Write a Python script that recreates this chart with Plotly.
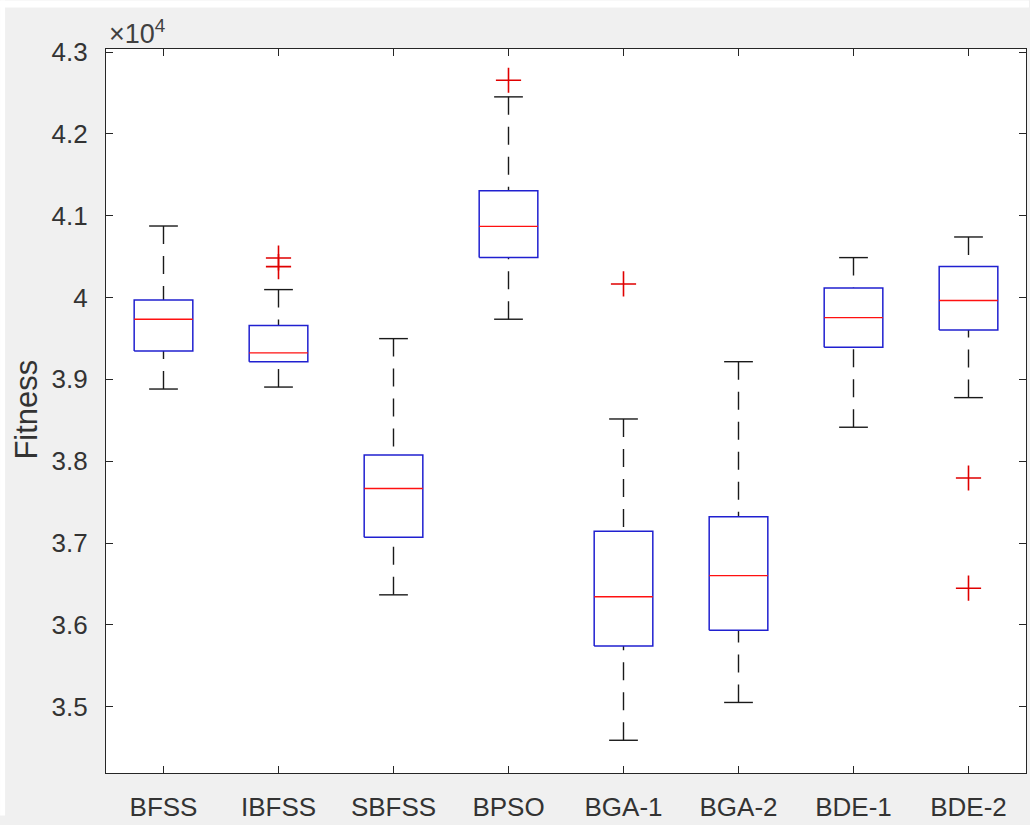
import plotly.graph_objects as go

categories = ["BFSS", "IBFSS", "SBFSS", "BPSO", "BGA-1", "BGA-2", "BDE-1", "BDE-2"]
lower_whisker = [38882, 38906, 36367, 39735, 34590, 35052, 38415, 38777]
q1 = [39348, 39216, 37072, 40488, 35743, 35933, 39393, 39602]
median = [39735, 39324, 37667, 40870, 36343, 36602, 39755, 39964]
q3 = [39969, 39658, 38077, 41304, 37144, 37322, 40117, 40378]
upper_whisker = [40874, 40097, 39498, 42452, 38516, 39216, 40488, 40740]
outliers = [[], [40378, 40483], [], [42655], [40166], [], [], [37795, 36448]]
y_ticks = [3.5, 3.6, 3.7, 3.8, 3.9, 4.0, 4.1, 4.2, 4.3]
y_tick_text = ["3.5", "3.6", "3.7", "3.8", "3.9", "4", "4.1", "4.2", "4.3"]

SCALE = 1e4
BOX_HW = 0.255
CAP_HW = 0.125

box_x, box_y = [], []
med_x, med_y = [], []
wh_x, wh_y = [], []
cap_x, cap_y = [], []
out_x, out_y = [], []
for i in range(len(categories)):
    c = i + 1
    lo, a, m, b, hi = (lower_whisker[i] / SCALE, q1[i] / SCALE, median[i] / SCALE,
                       q3[i] / SCALE, upper_whisker[i] / SCALE)
    box_x += [c - BOX_HW, c + BOX_HW, c + BOX_HW, c - BOX_HW, c - BOX_HW, None]
    box_y += [a, a, b, b, a, None]
    med_x += [c - BOX_HW, c + BOX_HW, None]
    med_y += [m, m, None]
    wh_x += [c, c, None, c, c, None]
    wh_y += [hi, b, None, lo, a, None]
    cap_x += [c - CAP_HW, c + CAP_HW, None, c - CAP_HW, c + CAP_HW, None]
    cap_y += [hi, hi, None, lo, lo, None]
    for v in outliers[i]:
        out_x.append(c)
        out_y.append(v / SCALE)

fig = go.Figure()
fig.add_trace(go.Scatter(x=wh_x, y=wh_y, mode="lines",
                         line=dict(color="#1a1a1a", width=1.4, dash="18px,12px")))
fig.add_trace(go.Scatter(x=cap_x, y=cap_y, mode="lines",
                         line=dict(color="#1a1a1a", width=1.4)))
fig.add_trace(go.Scatter(x=box_x, y=box_y, mode="lines",
                         line=dict(color="#2020d0", width=1.5)))
fig.add_trace(go.Scatter(x=med_x, y=med_y, mode="lines",
                         line=dict(color="#ff1010", width=1.4)))
fig.add_trace(go.Scatter(x=out_x, y=out_y, mode="markers",
                         marker=dict(symbol="cross-thin", size=18,
                                     line=dict(color="#e00000", width=1.6))))

W, H = 1030, 825
L, R, T, B = 106, 3, 49, 43
pw, ph = W - L - R, H - T - B
axis_col = "#262626"
font_fam = "Liberation Sans, Arial, sans-serif"

fig.update_layout(
    width=W, height=H,
    margin=dict(l=L, r=R, t=T, b=B),
    paper_bgcolor="#f0f0f0",
    plot_bgcolor="white",
    showlegend=False,
    font=dict(family=font_fam, color=axis_col),
    xaxis=dict(
        range=[0.5, 8.5],
        tickmode="array", tickvals=list(range(1, len(categories) + 1)), ticktext=categories,
        ticks="inside", ticklen=7, tickwidth=1, tickcolor=axis_col,
        showline=True, linecolor=axis_col, linewidth=1.2, mirror="ticks",
        showgrid=False, zeroline=False,
        tickfont=dict(size=26, color="#333333", family=font_fam),
        ticklabelstandoff=11,
    ),
    yaxis=dict(
        range=[3.419, 4.3037],
        tickmode="array", tickvals=y_ticks, ticktext=y_tick_text,
        ticks="inside", ticklen=7, tickwidth=1, tickcolor=axis_col,
        showline=True, linecolor=axis_col, linewidth=1.2, mirror="ticks",
        showgrid=False, zeroline=False,
        tickfont=dict(size=26, color="#333333", family=font_fam),
        ticklabelstandoff=12,
    ),
    annotations=[
        dict(text="Fitness", xref="paper", yref="paper",
             x=(26 - L) / pw, y=(H - B - 414) / ph, xanchor="center", yanchor="middle",
             textangle=-90, showarrow=False,
             font=dict(size=31, color="#333333", family=font_fam)),
        dict(text="×10<sup>4</sup>", xref="paper", yref="paper",
             x=(107 - L) / pw, y=(H - B - 32) / ph, xanchor="left", yanchor="middle",
             showarrow=False,
             font=dict(size=27, color="#404040", family=font_fam)),
    ],
    shapes=[
        dict(type="rect", xref="paper", yref="paper",
             x0=(0 - L) / pw, x1=(W - L) / pw, y0=(H - B - 7) / ph, y1=(H - B) / ph,
             fillcolor="white", line=dict(width=0), layer="below"),
        dict(type="rect", xref="paper", yref="paper",
             x0=(0 - L) / pw, x1=(5 - L) / pw, y0=(H - B - H) / ph, y1=(H - B) / ph,
             fillcolor="white", line=dict(width=0), layer="below"),
    ],
)

fig.write_html("out.html")
